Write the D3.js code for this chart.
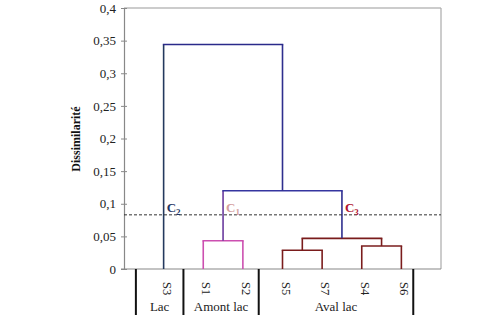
<!DOCTYPE html>
<html><head><meta charset="utf-8">
<script src="https://cdn.jsdelivr.net/npm/d3@7"></script>
<style>
html,body{margin:0;padding:0;background:#fff;}
svg{display:block;font-family:"Liberation Serif","Times New Roman",serif;}
</style></head>
<body>
<svg id="c" width="492" height="327"></svg>
<script>
// ---- data ----
const leafNames = ["S3","S1","S2","S5","S7","S4","S6"];
const mergeIds    = ["A1","A2","A3","A4","A5","A6"];
const mergeLeft   = ["S1","S5","S4","A2","A1","S3"];
const mergeRight  = ["S2","S7","S6","A3","A4","A5"];
const mergeHeight = [0.0434, 0.0287, 0.0352, 0.047, 0.12, 0.344];
const cutHeight = 0.083;
const yTicks = [0,0.05,0.1,0.15,0.2,0.25,0.3,0.35,0.4];
const groupNames = ["Lac","Amont lac","Aval lac"];
const groupBounds = [[0.3,1.5],[1.5,3.4],[3.4,7.3]];
const clusterNames = ["2","1","3"];
const clusterAt = [["S3",0.083],["A1",0.083],["A4",0.083]];

// ---- styles ----
const branchColor = {S3:"#24395e",S1:"#cc4fb0",S2:"#cc4fb0",S5:"#7a1c1c",S7:"#7a1c1c",S4:"#7a1c1c",S6:"#7a1c1c",
  A2:"#7a1c1c",A3:"#7a1c1c",A1:"#6a3b9e",A4:"#2e2e8e",A5:"#2e2e8e"};
const mergeColor = {A1:"#cc4fb0",A2:"#7a1c1c",A3:"#7a1c1c",A4:"#7a1c1c",A5:"#3535a0",A6:"#2a2a8a"};
const clusterColor = ["#1f3564","#d4a0a0","#b01030"];

const svg = d3.select("#c");
const x = d3.scaleLinear().domain([0,8]).range([124,441]);
const y = d3.scaleLinear().domain([0,0.4]).range([269,8]);

// frame
svg.append("line").attr("x1",x(0)).attr("x2",x(8)).attr("y1",y(0.4)).attr("y2",y(0.4)).attr("stroke","#999").attr("stroke-width",1.2);
svg.append("line").attr("x1",x(8)).attr("x2",x(8)).attr("y1",y(0.4)).attr("y2",y(0)).attr("stroke","#aaa").attr("stroke-width",1.2);

// y axis
const ax = d3.axisLeft(y).tickValues(yTicks).tickSize(3).tickPadding(5)
  .tickFormat(d => String(+d.toFixed(2)).replace(".",","));
const g = svg.append("g").attr("transform",`translate(${x(0)},0)`).call(ax);
g.select(".domain").attr("stroke","#888").attr("stroke-width",1.2);
g.selectAll(".tick line").attr("x1",3).attr("x2",-3).attr("stroke","#888");
g.selectAll(".tick text").attr("font-size",13).attr("fill","#222").attr("font-family","Liberation Serif");
// x axis line
svg.append("line").attr("x1",x(0)-3).attr("x2",x(8)).attr("y1",y(0)).attr("y2",y(0)).attr("stroke","#888").attr("stroke-width",1.2);

// y label
svg.append("text").attr("transform",`translate(80,139) rotate(-90)`).attr("text-anchor","middle")
  .attr("font-size",12).attr("font-weight","bold").attr("fill","#111").text("Dissimilarité");

// dendrogram positions
const pos = {}, hgt = {};
leafNames.forEach((n,i)=>{pos[n]=i+1; hgt[n]=0;});
mergeIds.forEach((m,i)=>{
  const l=mergeLeft[i], r=mergeRight[i], h=mergeHeight[i];
  pos[m]=(pos[l]+pos[r])/2; hgt[m]=h;
});
const lines = svg.append("g").attr("fill","none").attr("stroke-width",1.6);
mergeIds.forEach((m,i)=>{
  const l=mergeLeft[i], r=mergeRight[i], h=mergeHeight[i];
  [l,r].forEach(c=>{
    lines.append("line").attr("x1",x(pos[c])).attr("x2",x(pos[c])).attr("y1",y(hgt[c])).attr("y2",y(h)).attr("stroke",branchColor[c]);
  });
  lines.append("line").attr("x1",x(pos[l])-0.8).attr("x2",x(pos[r])+0.8).attr("y1",y(h)).attr("y2",y(h)).attr("stroke",mergeColor[m]);
});

// cut line
svg.append("line").attr("x1",x(0)).attr("x2",x(8)).attr("y1",y(cutHeight)).attr("y2",y(cutHeight))
  .attr("stroke","#333").attr("stroke-width",1).attr("stroke-dasharray","3,2");

// cluster labels
clusterAt.forEach((c,i)=>{
  const t = svg.append("text").attr("x",x(pos[c[0]])+3).attr("y",y(c[1])-3)
    .attr("font-size",13).attr("font-weight","bold").attr("fill",clusterColor[i]);
  t.append("tspan").text("C");
  t.append("tspan").attr("font-size",9).attr("dy",3).text(clusterNames[i]);
});

// leaf labels
leafNames.forEach(n=>{
  svg.append("text").attr("transform",`translate(${x(pos[n])-1},${y(0)+13}) rotate(90)`)
    .attr("font-size",12.5).attr("fill","#222").text(n);
});

// group separators and labels
const seps = [0.3,1.5,3.4,7.3];
seps.forEach(s=>{
  svg.append("line").attr("x1",x(s)).attr("x2",x(s)).attr("y1",y(0)).attr("y2",315).attr("stroke","#111").attr("stroke-width",2);
});
groupNames.forEach((gn,i)=>{
  svg.append("text").attr("x",x((groupBounds[i][0]+groupBounds[i][1])/2)).attr("y",311).attr("text-anchor","middle")
    .attr("font-size",13).attr("fill","#222").text(gn);
});
</script>
</body></html>
